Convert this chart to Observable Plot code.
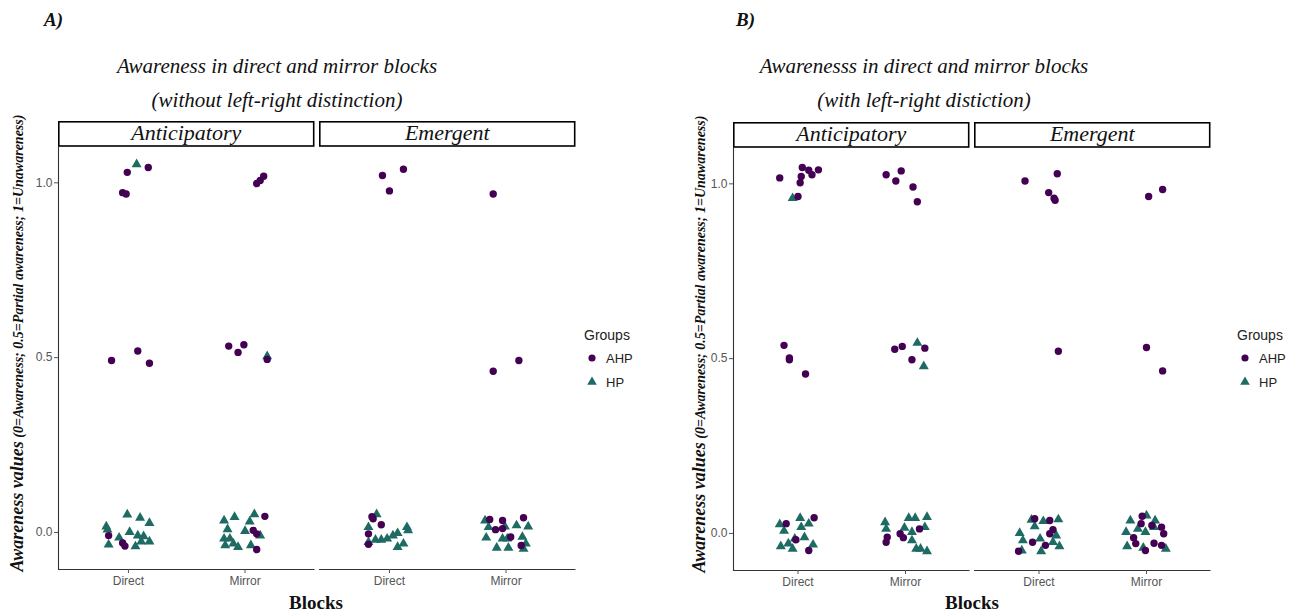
<!DOCTYPE html>
<html><head><meta charset="utf-8">
<script src="https://cdn.jsdelivr.net/npm/d3@7"></script>
<script src="https://cdn.jsdelivr.net/npm/@observablehq/plot@0.6"></script>
<style>
body{margin:0;background:#fff;}
#root{position:relative;width:1304px;height:614px;overflow:hidden;}
#root > svg{position:absolute;top:0;}
</style></head><body><div id="root"></div>
<script>
// ---------- categories / labels ----------
const facets = ["Anticipatory", "Emergent"];
const blocks = ["Direct", "Mirror"];
const groups = ["AHP", "HP"];
const groupColors = ["#440154", "#1d6b63"];
const groupSymbols = ["circle", "triangle"];
const yTicks = [0, 0.5, 1];
const panelLabels = ["A)", "B)"];
const titlesA = ["Awareness in direct and mirror blocks", "(without left-right distinction)"];
const titlesB = ["Awarenesss in direct and mirror blocks", "(with left-right distiction)"];
const yTitleMain = "Awareness values";
const yTitleSub = " (0=Awareness; 0.5=Partial awareness; 1=Unawareness)";
const xTitle = "Blocks";
const legendTitle = "Groups";

// ---------- data: [jitter offset from block centre, awareness value] ----------
// Panel A (without left-right distinction)
const A_ant_dir_AHP = [[-0.01,1.030],[0.17,1.044],[-0.05,0.972],[-0.02,0.968],[-0.145,0.492],[0.08,0.519],[0.18,0.484],[-0.17,-0.009],[-0.05,-0.030],[-0.03,-0.039]];
const A_ant_dir_HP  = [[0.07,1.053],[-0.01,0.051],[0.10,0.042],[0.18,0.027],[-0.19,0.017],[-0.18,0.008],[0.01,0.001],[-0.08,-0.015],[0.08,-0.009],[0.13,-0.011],[-0.17,-0.035],[0.06,-0.040],[0.11,-0.026],[0.18,-0.026]];
const A_ant_mir_AHP = [[0.10,0.998],[0.13,1.007],[0.16,1.019],[-0.14,0.533],[-0.06,0.515],[-0.01,0.537],[0.19,0.495],[0.17,0.046],[0.07,0.006],[0.10,-0.004],[0.10,-0.049]];
const A_ant_mir_HP  = [[0.19,0.504],[-0.18,0.034],[-0.09,0.044],[0.08,0.052],[0.04,0.031],[-0.15,0.009],[0.00,0.004],[-0.18,-0.018],[-0.13,-0.018],[-0.10,-0.032],[-0.06,-0.042],[-0.17,-0.037],[0.05,-0.037],[0.13,-0.009]];
const A_eme_dir_AHP = [[-0.06,1.021],[0.12,1.039],[0.00,0.977],[-0.14,0.039],[-0.07,0.022],[-0.18,-0.004],[-0.18,-0.034],[-0.15,0.045]];
const A_eme_dir_HP  = [[-0.11,0.052],[-0.18,0.015],[0.15,0.015],[0.16,0.006],[0.07,-0.002],[0.03,-0.009],[-0.02,-0.018],[-0.07,-0.021],[-0.12,-0.021],[0.12,-0.032],[0.07,-0.042],[-0.18,-0.028]];
const A_eme_mir_AHP = [[-0.11,0.968],[-0.11,0.461],[0.11,0.492],[-0.14,0.037],[-0.03,0.034],[-0.09,0.008],[-0.03,0.011],[0.15,0.042],[0.04,-0.013],[0.13,-0.037]];
const A_eme_mir_HP  = [[-0.18,0.034],[-0.15,0.015],[-0.01,0.017],[0.09,0.020],[0.19,0.017],[-0.17,-0.015],[-0.03,-0.018],[0.01,-0.018],[0.14,-0.013],[-0.08,-0.044],[0.02,-0.044],[0.15,-0.047],[0.17,-0.032]];
// Panel B (with left-right distinction)
const B_ant_dir_AHP = [[-0.17,1.017],[0.04,1.047],[0.03,1.021],[0.02,1.003],[0.10,1.039],[0.13,1.026],[0.19,1.040],[0.00,0.964],[-0.13,0.538],[-0.08,0.502],[-0.08,0.497],[0.07,0.456],[-0.11,0.028],[0.15,0.045],[-0.02,-0.018],[0.10,-0.049]];
const B_ant_dir_HP  = [[-0.05,0.959],[-0.17,0.026],[0.02,0.044],[0.10,0.028],[-0.13,0.007],[0.03,0.018],[0.06,-0.011],[-0.03,-0.015],[-0.16,-0.037],[-0.05,-0.044],[0.14,-0.032],[-0.09,-0.029]];
const B_ant_mir_AHP = [[-0.18,1.026],[-0.09,1.008],[-0.04,1.037],[0.07,0.991],[0.11,0.949],[-0.10,0.527],[-0.03,0.535],[0.06,0.497],[0.18,0.530],[-0.18,-0.025],[-0.17,-0.011],[-0.05,-0.001],[-0.02,-0.012],[0.13,0.013]];
const B_ant_mir_HP  = [[0.11,0.545],[0.17,0.478],[-0.19,0.032],[-0.18,0.013],[0.03,0.044],[0.09,0.044],[0.20,0.047],[-0.01,0.016],[0.18,0.018],[0.06,0.004],[0.06,-0.020],[0.10,-0.044],[0.20,-0.051],[0.14,-0.044]];
const B_eme_dir_AHP = [[-0.13,1.008],[0.17,1.029],[0.09,0.975],[0.14,0.959],[0.15,0.953],[0.18,0.521],[-0.04,0.042],[0.10,0.037],[0.13,0.011],[0.10,-0.001],[-0.06,-0.025],[0.06,-0.034],[-0.19,-0.051]];
const B_eme_dir_HP  = [[-0.07,0.039],[0.18,0.040],[0.04,0.035],[-0.18,0.001],[-0.04,0.020],[0.01,-0.015],[-0.15,-0.020],[0.13,-0.025],[0.19,-0.037],[0.02,-0.051],[-0.16,-0.049],[0.16,-0.006]];
const B_eme_mir_AHP = [[0.02,0.964],[0.15,0.984],[0.00,0.532],[0.15,0.465],[-0.04,0.049],[-0.05,0.028],[0.14,0.018],[0.16,-0.001],[-0.12,-0.012],[-0.10,-0.029],[0.07,-0.028],[0.14,-0.034],[-0.01,-0.049],[0.05,0.023]];
const B_eme_mir_HP  = [[-0.15,0.037],[0.00,0.051],[0.08,0.037],[-0.19,0.004],[-0.08,0.013],[-0.01,0.004],[-0.18,-0.037],[-0.03,-0.041],[0.18,-0.044],[0.07,0.018]];

// ---------- build tables ----------
const srcA = {
  Anticipatory: {Direct: {AHP: A_ant_dir_AHP, HP: A_ant_dir_HP}, Mirror: {AHP: A_ant_mir_AHP, HP: A_ant_mir_HP}},
  Emergent:     {Direct: {AHP: A_eme_dir_AHP, HP: A_eme_dir_HP}, Mirror: {AHP: A_eme_mir_AHP, HP: A_eme_mir_HP}}
};
const srcB = {
  Anticipatory: {Direct: {AHP: B_ant_dir_AHP, HP: B_ant_dir_HP}, Mirror: {AHP: B_ant_mir_AHP, HP: B_ant_mir_HP}},
  Emergent:     {Direct: {AHP: B_eme_dir_AHP, HP: B_eme_dir_HP}, Mirror: {AHP: B_eme_mir_AHP, HP: B_eme_mir_HP}}
};
function buildRows(src, facet) {
  const out = [];
  for (const g of ["HP", "AHP"]) for (const b of blocks)
    for (const [dx, v] of src[facet][b][g]) out.push({facet, block: b, group: g, x: blocks.indexOf(b) + 1 + dx, value: v});
  return out;
}

// ---------- strip + axis lines (render function mark, one facet per chart) ----------
function decorations(label, stripTop, leftLine) {
  return (index, scales, values, dims) => {
    const {width, height, marginLeft, marginRight, marginTop, marginBottom} = dims;
    const x0 = marginLeft, x1 = width - marginRight, yb = height - marginBottom;
    const g = d3.create("svg:g");
    g.append("rect").attr("x", x0 + 0.8).attr("y", stripTop + 0.8).attr("width", x1 - x0 - 1.6).attr("height", marginTop - stripTop - 0.8)
      .attr("fill", "#fff").attr("stroke", "#000").attr("stroke-width", 1.6);
    g.append("text").attr("x", (x0 + x1) / 2).attr("y", stripTop + 19).attr("text-anchor", "middle")
      .attr("font-family", "'Liberation Serif', serif").attr("font-style", "italic").attr("font-size", 22).attr("fill", "#111").text(label);
    g.append("line").attr("x1", x0).attr("x2", x1).attr("y1", yb + 0.5).attr("y2", yb + 0.5).attr("stroke", "#333").attr("stroke-width", 1.1);
    if (leftLine) g.append("line").attr("x1", x0 + 0.5).attr("x2", x0 + 0.5).attr("y1", marginTop).attr("y2", yb + 1).attr("stroke", "#333").attr("stroke-width", 1.1);
    return g.node();
  };
}

function makeFacetPlot(rows, cfg) {
  return Plot.plot({
    width: cfg.ml + cfg.pw + 1, height: 614,
    marginLeft: cfg.ml, marginRight: 1, marginTop: cfg.mt, marginBottom: cfg.mb,
    style: {fontFamily: "'Liberation Sans', Arial, sans-serif", fontSize: "12px", background: "transparent", overflow: "visible"},
    x: {domain: [0.4, 2.6], label: null, axis: null},
    y: {domain: [-0.106, 1.104], label: null, axis: null},
    color: {domain: groups, range: groupColors},
    symbol: {domain: groups, range: groupSymbols},
    marks: [
      decorations(cfg.facet, cfg.stripTop, cfg.showY),
      cfg.showY ? Plot.axisY({ticks: yTicks, tickFormat: d3.format(".1f"), tickSize: 4, tickPadding: 2, color: "#555", fontSize: 12, label: null}) : null,
      Plot.axisX({ticks: [1, 2], tickFormat: d => blocks[d - 1], tickSize: 4, tickPadding: 3, color: "#555", fontSize: 12, label: null}),
      Plot.dot(rows, {x: "x", y: "value", fill: "group", symbol: "group", r: 3.7, stroke: "none"})
    ]
  });
}

const root = document.getElementById("root");
const layout = [
  {src: srcA, facet: "Anticipatory", left: 0,   ml: 58, pw: 256.5, mt: 146, mb: 45, stripTop: 121, showY: true},
  {src: srcA, facet: "Emergent",     left: 318.5, ml: 0, pw: 256.5, mt: 146, mb: 45, stripTop: 121, showY: false},
  {src: srcB, facet: "Anticipatory", left: 652, ml: 81, pw: 236.5, mt: 147, mb: 44, stripTop: 122, showY: true},
  {src: srcB, facet: "Emergent",     left: 973.5, ml: 0, pw: 236.5, mt: 147, mb: 44, stripTop: 122, showY: false}
];
for (const c of layout) {
  const el = makeFacetPlot(buildRows(c.src, c.facet), c);
  el.style.left = c.left + "px";
  root.appendChild(el);
}

// ---------- titles, axis titles, legends ----------
const ov = d3.select(root).append("svg").attr("width", 1304).attr("height", 614).style("left", "0px").style("pointer-events", "none");
const serif = "'Liberation Serif', serif";
function text(x, y, s, o = {}) {
  return ov.append("text").attr("x", x).attr("y", y).attr("text-anchor", o.anchor || "start")
    .attr("font-family", o.family || serif).attr("font-size", o.size || 14)
    .attr("font-style", o.style || "normal").attr("font-weight", o.weight || "normal")
    .attr("fill", o.fill || "#111").text(s);
}
const panels = [
  {label: panelLabels[0], lx: 44, titles: titlesA, tcx: 277, ycx: 18, ycy: 343, bx: 316, legX: 592},
  {label: panelLabels[1], lx: 736, titles: titlesB, tcx: 924, ycx: 700, ycy: 344, bx: 972, legX: 1245}
];
for (const p of panels) {
  text(p.lx, 26, p.label, {size: 19, style: "italic", weight: "bold"});
  text(p.tcx, 73, p.titles[0], {size: 21, style: "italic", anchor: "middle"});
  text(p.tcx, 107, p.titles[1], {size: 21, style: "italic", anchor: "middle"});
  const yt = ov.append("text").attr("transform", `translate(${p.ycx + 5},${p.ycy}) rotate(-90)`).attr("text-anchor", "middle")
    .attr("font-family", serif).attr("font-style", "italic").attr("font-weight", "bold").attr("fill", "#111");
  yt.append("tspan").attr("font-size", 18).text(yTitleMain);
  yt.append("tspan").attr("font-size", 14).text(yTitleSub);
  text(p.bx, 609, xTitle, {size: 19, weight: "bold", anchor: "middle"});
  // legend
  text(p.legX - 8, 340, legendTitle, {size: 14, family: "'Liberation Sans', Arial, sans-serif", fill: "#222"});
  groups.forEach((g, i) => {
    const cy = 358 + i * 24;
    const sym = d3.symbol(i === 0 ? d3.symbolCircle : d3.symbolTriangle, 40)();
    ov.append("path").attr("d", sym).attr("transform", `translate(${p.legX},${cy})`).attr("fill", groupColors[i]);
    text(p.legX + 14, cy + 5, g, {size: 13, family: "'Liberation Sans', Arial, sans-serif", fill: "#222"});
  });
}
</script></body></html>
